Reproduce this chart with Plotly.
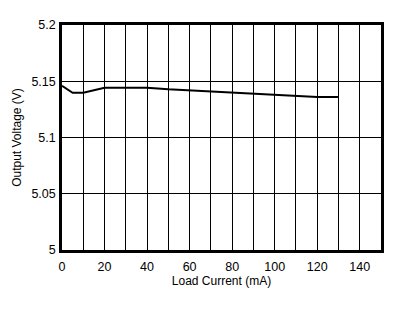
import plotly.graph_objects as go

load_current = [0, 5, 10, 20, 30, 40, 50, 60, 70, 80, 90, 100, 110, 120, 130]
output_voltage = [5.146, 5.1398, 5.1398, 5.1442, 5.1442, 5.1442, 5.1428, 5.1418, 5.1408, 5.1398, 5.1388, 5.1378, 5.1368, 5.136, 5.136]

x_grid = list(range(0, 151, 10))
x_labels = [str(v) if v % 20 == 0 and v < 150 else "" for v in x_grid]
y_grid = [5, 5.05, 5.1, 5.15, 5.2]
y_labels = ["5", "5.05", "5.1", "5.15", "5.2"]

fig = go.Figure()
fig.add_trace(go.Scatter(x=load_current, y=output_voltage, mode="lines",
                         line=dict(color="black", width=2), showlegend=False))

fig.update_layout(
    width=418, height=312,
    margin=dict(l=62, r=37, t=25, b=62),
    paper_bgcolor="white", plot_bgcolor="white",
    font=dict(family="Liberation Sans, Arial, sans-serif", color="black", size=12),
    xaxis=dict(range=[0, 150], tickvals=x_grid, ticktext=x_labels,
               showgrid=True, gridcolor="black", gridwidth=1,
               showline=True, linecolor="black", linewidth=2.5, mirror=True,
               zeroline=False, ticks="", ticklen=0, ticklabelstandoff=3,
               tickfont=dict(size=12.5),
               title=dict(text="Load Current (mA)", font=dict(size=12), standoff=3)),
    yaxis=dict(range=[5, 5.2], tickvals=y_grid, ticktext=y_labels,
               showgrid=True, gridcolor="black", gridwidth=1,
               showline=True, linecolor="black", linewidth=2.5, mirror=True,
               zeroline=False, ticks="", ticklen=0, ticklabelstandoff=1,
               tickfont=dict(size=12.5),
               title=dict(text="Output Voltage (V)", font=dict(size=12), standoff=8)),
)

fig.write_html("out.html")
